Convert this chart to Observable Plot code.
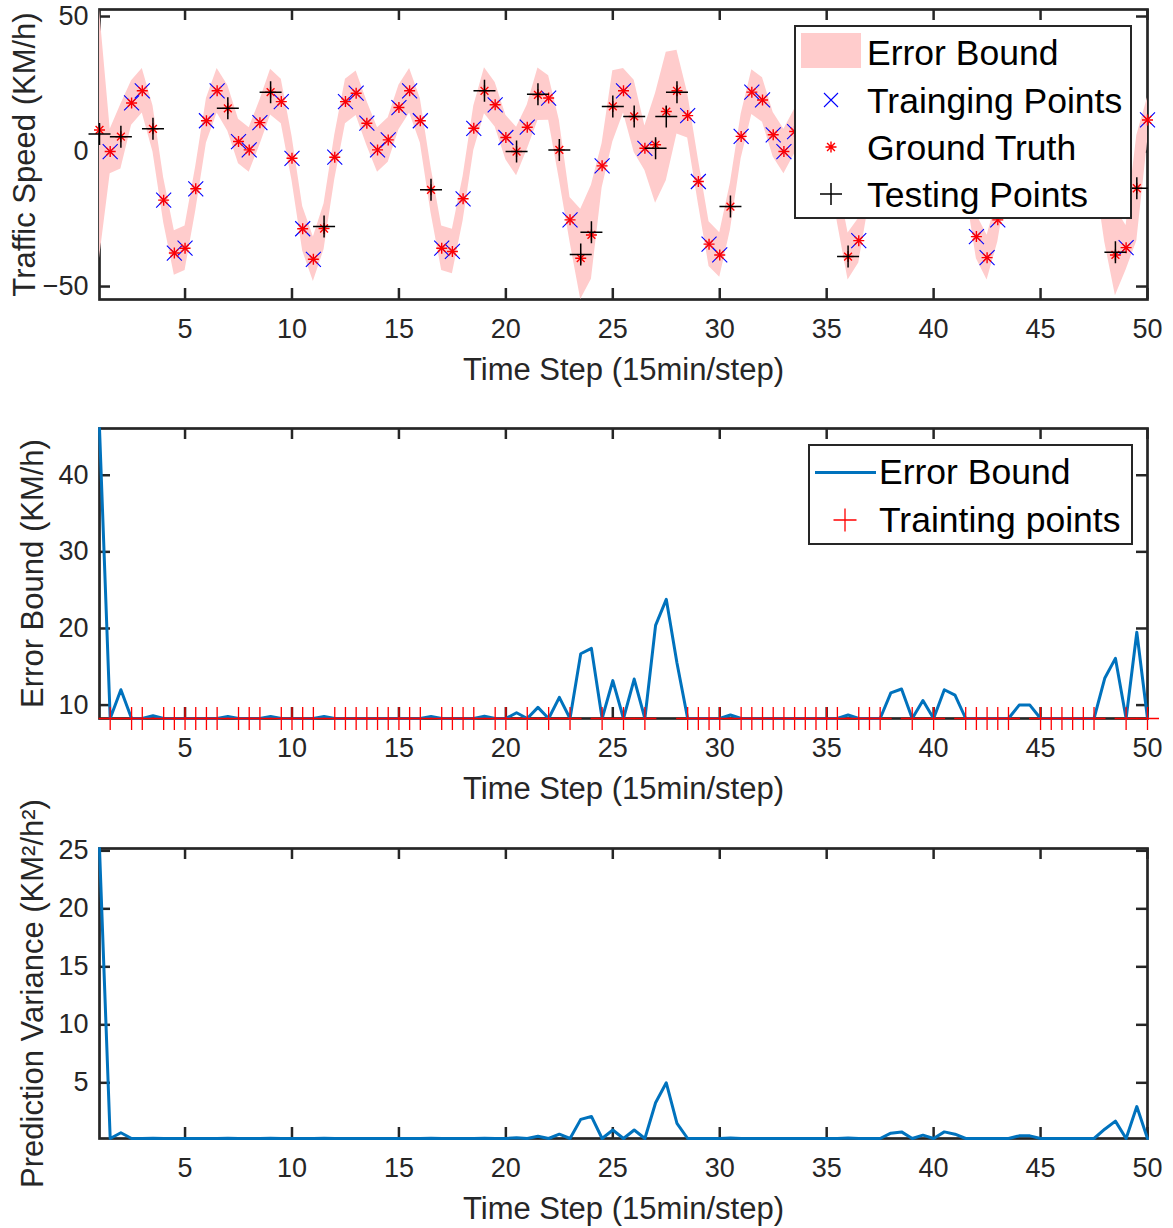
<!DOCTYPE html>
<html>
<head>
<meta charset="utf-8">
<script src="https://cdn.jsdelivr.net/npm/d3@7"></script>
<script src="https://cdn.jsdelivr.net/npm/@observablehq/plot@0.6"></script>
<style>
  html, body { margin:0; padding:0; background:#fff; }
  body { position:relative; width:1173px; height:1228px; overflow:hidden; font-family:"Liberation Sans", Arial, Helvetica, sans-serif; }
  .panel { position:absolute; left:0; width:1173px; }
  .panel svg { display:block; overflow:visible; }
  .lg-box { position:absolute; background:#fff; border:2.5px solid #262626; box-sizing:border-box; }
  .lg-text { position:absolute; height:40px; line-height:40px; white-space:nowrap; color:#000; }
  .lg-icon { position:absolute; overflow:visible; }
</style>
</head>
<body>
<div id="p1" class="panel" style="top:1px"></div>
<div id="p2" class="panel" style="top:420px"></div>
<div id="p3" class="panel" style="top:840px"></div>
<script>
// ---------------- data ----------------
const timeStep = [1,1.5,2,2.5,3,3.5,4,4.5,5,5.5,6,6.5,7,7.5,8,8.5,9,9.5,10,10.5,
  11,11.5,12,12.5,13,13.5,14,14.5,15,15.5,16,16.5,17,17.5,18,18.5,19,19.5,20,20.5,
  21,21.5,22,22.5,23,23.5,24,24.5,25,25.5,26,26.5,27,27.5,28,28.5,29,29.5,30,30.5,
  31,31.5,32,32.5,33,33.5,34,34.5,35,35.5,36,36.5,37,37.5,38,38.5,39,39.5,40,40.5,
  41,41.5,42,42.5,43,43.5,44,44.5,45,45.5,46,46.5,47,47.5,48,48.5,49,49.5,50];

const groundTruth = [8,0,5.5,18,22.5,8.4,-18,-37.6,-35.8,-13.8,
  11.4,22.5,16,3.7,0.6,10.7,22,18.5,-2.5,-28.6,
  -39.9,-28.5,-2.1,18.5,21.6,10.5,0.6,4.3,16.3,22.5,
  11.4,-14.2,-35.8,-37,-17.5,8.6,22.5,17.3,5.2,0,
  9,21,19.8,0.6,-25.3,-39.5,-30.9,-5.3,16.7,22.5,
  13,1.2,2.5,14.8,22.5,13.3,-11.1,-34.3,-38.3,-20.4,
  5.6,22,19.1,6.2,0,7.4,17,21,8,-18,
  -38.9,-33,-10,10,20,16,3,1,9,21,
  17,-6,-31.5,-39.3,-25.3,-2,14,21,18,6,
  1,9,19,2,-20,-38.3,-35.6,-13.6,11.7];

const testingSteps = [1,2,3.5,7,9,11.5,16.5,19,20.5,21.5,22.5,23.5,24,25,26,27,27.5,28,30.5,36,
  38,38.5,39.5,40.5,41,44,44.5,48,48.5,49.5];
const testingPrediction = [6.5,5.5,8.4,16,22,-27.8,-14.2,22.5,0,21.2,0.6,-38.1,-29.9,16.7,13,1.2,13,22,-20.4,-38.9,
  20,16,1,21,17,14,21,-20,-37.3,-13.6];

const errorBound = [46.1,8.25,12.0,8.25,8.25,8.6,8.25,8.25,8.25,8.25,
  8.25,8.25,8.5,8.25,8.25,8.25,8.5,8.25,8.25,8.25,
  8.25,8.5,8.25,8.25,8.25,8.25,8.25,8.25,8.25,8.25,
  8.25,8.5,8.25,8.25,8.25,8.25,8.55,8.25,8.25,9.0,
  8.25,9.7,8.25,11.0,8.25,16.7,17.4,8.25,13.2,8.25,
  13.4,8.25,20.4,23.8,15.5,8.25,8.25,8.25,8.25,8.7,
  8.25,8.25,8.25,8.25,8.25,8.25,8.25,8.25,8.25,8.25,
  8.7,8.25,8.25,8.25,11.6,12.1,8.25,10.6,8.25,12.0,
  11.3,8.25,8.25,8.25,8.25,8.25,10.0,10.0,8.25,8.25,
  8.25,8.25,8.25,8.25,13.5,16.1,8.25,19.5,8.25];

const predVariance = [25.2,0.2,0.7,0.2,0.2,0.22,0.2,0.2,0.2,0.2,
  0.2,0.2,0.22,0.2,0.2,0.2,0.22,0.2,0.2,0.2,
  0.2,0.22,0.2,0.2,0.2,0.2,0.2,0.2,0.2,0.2,
  0.2,0.22,0.2,0.2,0.2,0.2,0.23,0.2,0.2,0.26,
  0.2,0.4,0.2,0.57,0.2,1.85,2.1,0.2,0.93,0.2,
  0.93,0.2,3.28,5.0,1.5,0.2,0.2,0.2,0.2,0.25,
  0.2,0.2,0.2,0.2,0.2,0.2,0.2,0.2,0.2,0.2,
  0.25,0.2,0.2,0.2,0.66,0.77,0.2,0.49,0.2,0.77,
  0.57,0.2,0.2,0.2,0.2,0.2,0.43,0.43,0.2,0.2,
  0.2,0.2,0.2,0.2,1.0,1.7,0.2,2.95,0.2];

const xTicks = [5,10,15,20,25,30,35,40,45,50];
const speedTicks = [-50,0,50];
const boundTicks = [10,20,30,40];
const varianceTicks = [5,10,15,20,25];

const xTitle = "Time Step (15min/step)";
const speedTitle = "Traffic Speed (KM/h)";
const boundTitle = "Error Bound (KM/h)";
const varianceTitle = "Prediction Variance (KM\u00B2/h\u00B2)";

// ---------------- derived tables ----------------
const testMap = new Map(testingSteps.map((t, i) => [t, testingPrediction[i]]));
const rows = timeStep.map((t, i) => {
  const pred = testMap.has(t) ? testMap.get(t) : groundTruth[i];
  return {t, gt: groundTruth[i], pred, eb: errorBound[i], v: predVariance[i],
          lo: pred - errorBound[i], hi: pred + errorBound[i], test: testMap.has(t)};
});
const trainRows = rows.filter(d => !d.test);
const testRows = testingSteps.map((t, i) => ({t, y: testingPrediction[i]}));

// ---------------- symbols ----------------
const plusSym = {draw(ctx, size) { const r = Math.sqrt(size / Math.PI);
  ctx.moveTo(-r, 0); ctx.lineTo(r, 0); ctx.moveTo(0, -r); ctx.lineTo(0, r); }};
const timesSym = {draw(ctx, size) { const r = Math.sqrt(size / Math.PI);
  ctx.moveTo(-r, -r); ctx.lineTo(r, r); ctx.moveTo(-r, r); ctx.lineTo(r, -r); }};

// ---------------- layout ----------------
const FONT = '"Liberation Sans", Arial, Helvetica, sans-serif';
const AX = "#262626";
const W = 1173, H = 390, MT = 8, MB = 92, ML = 99, MR = 26;
const FW = W - ML - MR, FH = H - MT - MB, TICK = 11;
const BLUE = "#0072bd";

function panel(target, {yDomain, yTicks, yTitle, yTitleDx, data}) {
  const svg = Plot.plot({
    width: W, height: H, marginTop: MT, marginBottom: MB, marginLeft: ML, marginRight: MR,
    x: {domain: [1, 50], label: null},
    y: {domain: yDomain, label: null},
    style: {fontFamily: FONT, background: "transparent", overflow: "visible", color: AX},
    marks: [
      Plot.frame({stroke: AX, strokeWidth: 2.7}),
      Plot.ruleX(xTicks, {x: d => d, insetTop: FH - TICK, stroke: AX, strokeWidth: 2.5}),
      Plot.ruleX(xTicks, {x: d => d, insetBottom: FH - TICK, stroke: AX, strokeWidth: 2.5}),
      Plot.ruleY(yTicks, {y: d => d, insetRight: FW - TICK, stroke: AX, strokeWidth: 2.5}),
      Plot.ruleY(yTicks, {y: d => d, insetLeft: FW - TICK, stroke: AX, strokeWidth: 2.5}),
      ...data,
      Plot.axisX(xTicks, {tickSize: 0, tickPadding: 19, fontSize: 27, fill: AX, label: null}),
      Plot.axisY(yTicks, {tickSize: 0, tickPadding: 11, fontSize: 27, fill: AX, label: null}),
      Plot.text([xTitle], {text: d => d, frameAnchor: "bottom", dy: 71, textAnchor: "middle", lineAnchor: "middle", fontSize: 31, fill: AX}),
      Plot.text([yTitle], {text: d => d, frameAnchor: "left", dx: -yTitleDx, rotate: -90, textAnchor: "middle", lineAnchor: "middle", fontSize: 31, fill: AX})
    ]
  });
  document.getElementById(target).appendChild(svg);
}

// Panel 1: traffic speed
panel("p1", {
  yDomain: [d3.min(rows, d => d.lo), d3.max(rows, d => d.hi)],
  yTicks: speedTicks, yTitle: speedTitle, yTitleDx: 74,
  data: [
    Plot.areaY(rows, {x: "t", y1: "lo", y2: "hi", fill: "#ffcccc"}),
    Plot.dot(trainRows, {x: "t", y: "gt", symbol: timesSym, r: 7.5, stroke: "#0000ff", strokeWidth: 1.1, fill: "none"}),
    Plot.dot(rows, {x: "t", y: "gt", symbol: plusSym, r: 5.5, stroke: "#ff0000", strokeWidth: 1.4, fill: "none"}),
    Plot.dot(rows, {x: "t", y: "gt", symbol: timesSym, r: 3.9, stroke: "#ff0000", strokeWidth: 1.4, fill: "none"}),
    Plot.dot(testRows, {x: "t", y: "y", symbol: plusSym, r: 11, stroke: "#000000", strokeWidth: 1.5, fill: "none"})
  ]
});

// Panel 2: error bound
panel("p2", {
  yDomain: d3.extent(errorBound),
  yTicks: boundTicks, yTitle: boundTitle, yTitleDx: 66,
  data: [
    Plot.lineY(rows, {x: "t", y: "eb", stroke: BLUE, strokeWidth: 3, strokeLinejoin: "round"}),
    Plot.dot(trainRows, {x: "t", y: "eb", symbol: plusSym, r: 11.5, stroke: "#ff0000", strokeWidth: 1.3, fill: "none"})
  ]
});

// Panel 3: prediction variance
panel("p3", {
  yDomain: d3.extent(predVariance),
  yTicks: varianceTicks, yTitle: varianceTitle, yTitleDx: 66,
  data: [
    Plot.lineY(rows, {x: "t", y: "v", stroke: BLUE, strokeWidth: 3, strokeLinejoin: "round"})
  ]
});

// ---------------- legends (HTML overlays) ----------------
function box(left, top, w, h) {
  const d = document.createElement("div");
  d.className = "lg-box";
  Object.assign(d.style, {left: left + "px", top: top + "px", width: w + "px", height: h + "px"});
  document.body.appendChild(d);
}
function label(str, left, cy, size) {
  const d = document.createElement("div");
  d.className = "lg-text";
  d.textContent = str;
  Object.assign(d.style, {left: left + "px", top: (cy - 20) + "px", fontSize: size + "px"});
  document.body.appendChild(d);
}
function icon(inner, cx, cy) {
  const ns = "http://www.w3.org/2000/svg";
  const s = document.createElementNS(ns, "svg");
  s.setAttribute("class", "lg-icon");
  s.setAttribute("width", 30); s.setAttribute("height", 30);
  s.setAttribute("viewBox", "-15 -15 30 30");
  s.style.left = (cx - 15) + "px"; s.style.top = (cy - 15) + "px";
  s.innerHTML = inner;
  document.body.appendChild(s);
}
function rect(left, top, w, h, color) {
  const d = document.createElement("div");
  Object.assign(d.style, {position: "absolute", left: left + "px", top: top + "px", width: w + "px", height: h + "px", background: color});
  document.body.appendChild(d);
}

// Top legend
box(794, 25, 338, 194);
rect(801, 33, 60, 35, "#ffcccc");
label("Error Bound", 867, 52.5, 35.5);
icon('<path d="M-7,-7L7,7M-7,7L7,-7" stroke="#0000ff" stroke-width="1.1" fill="none"/>', 831, 100);
label("Trainging Points", 867, 100.5, 35.5);
icon('<path d="M-5.5,0L5.5,0M0,-5.5L0,5.5M-3.9,-3.9L3.9,3.9M-3.9,3.9L3.9,-3.9" stroke="#ff0000" stroke-width="1.4" fill="none"/>', 831, 147);
label("Ground Truth", 867, 148, 35.5);
icon('<path d="M-11,0L11,0M0,-11L0,11" stroke="#000" stroke-width="1.5" fill="none"/>', 831, 194);
label("Testing Points", 867, 194.5, 35.5);

// Middle legend
box(808, 444, 325, 101);
rect(815, 470.5, 61, 3, BLUE);
label("Error Bound", 879, 472, 35.5);
icon('<path d="M-11.5,0L11.5,0M0,-11.5L0,11.5" stroke="#ff0000" stroke-width="1.3" fill="none"/>', 845, 520);
label("Trainting points", 879, 520, 35.5);
</script>
</body>
</html>
